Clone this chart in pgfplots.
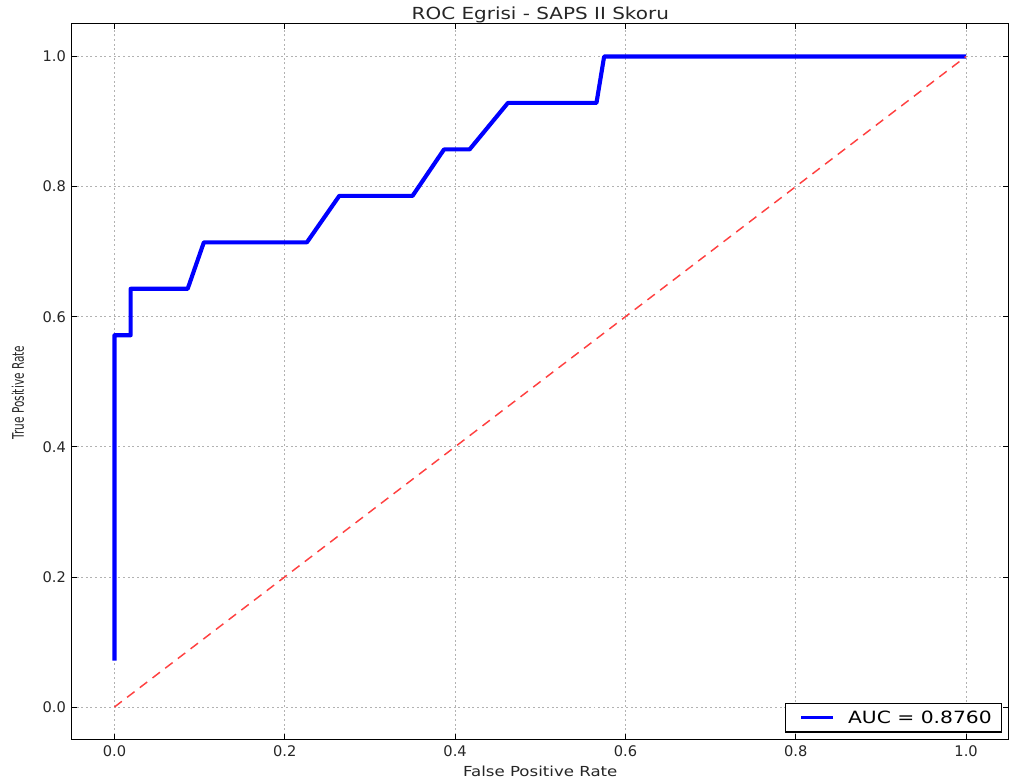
\documentclass[border=0pt]{standalone}
\usepackage{fontspec}
\setmainfont{DejaVu Sans}
\newfontfamily\widefont[FakeStretch=1.2]{DejaVu Sans}
\newfontfamily\narrowfont[FakeStretch=0.66]{DejaVu Sans}
\usepackage{pgfplots}
\pgfplotsset{compat=1.18}
\begin{document}
\begin{tikzpicture}
\begin{axis}[
  scale only axis,
  width=704pt, height=537.75pt,
  xmin=-0.05, xmax=1.05, ymin=-0.05, ymax=1.05,
  xtick={0,0.2,0.4,0.6,0.8,1.0},
  ytick={0,0.2,0.4,0.6,0.8,1.0},
  xticklabels={0.0,0.2,0.4,0.6,0.8,1.0},
  yticklabels={0.0,0.2,0.4,0.6,0.8,1.0},
  /pgf/number format/assume math mode=true,
  tick label style={font=\fontsize{11}{13}\selectfont, color=black!85},
  tick align=inside,
  major tick length=4pt,
  tick style={black, line width=0.6pt},
  axis line style={black, line width=0.8pt},
  grid=major,
  grid style={gray!60, dash pattern=on 1.5pt off 2pt, line width=0.5pt},
  xticklabel style={yshift=-1pt},
  yticklabel style={xshift=-1pt},
  title={\widefont\fontsize{12.5}{14}\selectfont ROC Egrisi - SAPS II Skoru},
  title style={at={(axis description cs:0.5,1)}, anchor=base, yshift=-3pt, color=black!85},
  xlabel={\widefont\fontsize{10.4}{12}\selectfont False Positive Rate},
  ylabel={\narrowfont\fontsize{12}{14}\selectfont True Positive Rate},
  xlabel style={at={(axis description cs:0.5,0)}, anchor=base, yshift=-28pt, color=black!85},
  ylabel style={at={(axis description cs:-0.0577,0.4847)}, anchor=center, color=black!85},
  legend style={at={(rel axis cs:0.9925,0.0098)}, anchor=south east,
    draw=black, line width=0.8pt, font=\widefont\fontsize{12.7}{14}\selectfont,
    inner xsep=5pt, inner ysep=3.2pt},
  legend cell align=left,
  legend image code/.code={\path (-5pt,0pt); \draw[#1, line width=2.5pt] (0pt,0pt) -- (24pt,0pt);},
]
\addplot[color=blue, line width=3.1pt, line join=round] coordinates {
(0,0.0714) (0,0.5714) (0.019,0.5714) (0.019,0.6429) (0.086,0.6429)
(0.105,0.7143) (0.226,0.7143) (0.264,0.7857) (0.350,0.7857)
(0.387,0.8571) (0.417,0.8571) (0.462,0.9286) (0.566,0.9286)
(0.575,1.0) (1.0,1.0)
};
\addlegendentry{\hspace{8pt}AUC = 0.8760}
\addplot[color=red!75!white, line width=1.1pt, dash pattern=on 7pt off 5pt, forget plot] coordinates {
(0,0) (1,1)
};
\end{axis}
\pgfresetboundingbox
\path[use as bounding box] ([xshift=-54pt,yshift=-33pt]current axis.south west) rectangle ([xshift=1pt,yshift=18pt]current axis.north east);
\end{tikzpicture}
\end{document}
